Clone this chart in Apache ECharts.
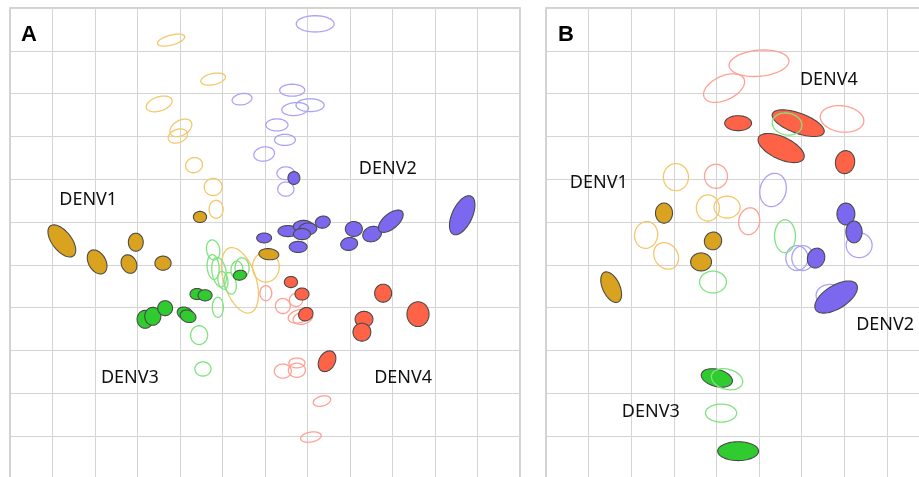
<!DOCTYPE html>
<html><head><meta charset="utf-8">
<script src="https://cdn.jsdelivr.net/npm/echarts@6/dist/echarts.min.js"></script>
<style>html,body{margin:0;padding:0;background:#fff}#c{width:919px;height:477px}</style>
</head><body><div id="c"></div><script>
// Each ellipse: [x, y, width, height, angleDeg] in map grid units (y counted downward)
// ---- Panel A ----
const A_gold_open = [
  [3.79,0.75,0.66,0.23,15],[4.78,1.66,0.59,0.26,12],[3.51,2.24,0.63,0.33,18],
  [4.02,2.80,0.56,0.35,30],[3.95,2.99,0.47,0.31,20],[4.33,3.67,0.40,0.35,20],
  [4.78,4.18,0.42,0.40,0],[4.85,4.70,0.33,0.42,0],[5.41,6.36,1.60,0.75,-72],
  [6.02,6.05,0.63,0.70,0]
];
const A_gold_fill = [
  [1.22,5.44,0.89,0.45,-52],[2.05,5.93,0.61,0.40,-60],[2.96,5.47,0.35,0.42,0],
  [2.80,5.98,0.45,0.35,-65],[3.60,5.96,0.38,0.33,0],[4.47,4.88,0.31,0.26,0],
  [6.09,5.75,0.47,0.26,-5]
];
const A_purple_open = [
  [7.18,0.37,0.89,0.38,0],[5.46,2.13,0.47,0.26,10],[6.64,1.92,0.59,0.28,0],
  [7.06,2.27,0.66,0.30,0],[6.71,2.36,0.63,0.30,5],[6.28,2.73,0.52,0.28,0],
  [6.47,3.08,0.49,0.26,0],[5.98,3.41,0.49,0.33,10],[6.49,3.86,0.42,0.30,0],
  [6.49,4.23,0.38,0.33,0]
];
const A_purple_fill = [
  [6.68,3.97,0.28,0.30,0],[5.98,5.37,0.35,0.23,0],[6.54,5.21,0.47,0.26,0],
  [6.89,5.09,0.45,0.26,5],[7.01,5.16,0.42,0.28,5],[6.87,5.28,0.40,0.26,0],
  [7.36,5.00,0.35,0.28,10],[6.78,5.58,0.42,0.26,0],[8.09,5.16,0.40,0.35,0],
  [7.98,5.51,0.40,0.30,10],[8.52,5.28,0.45,0.35,20],[8.96,4.98,0.70,0.35,40],
  [10.64,4.84,0.99,0.47,65]
];
const A_green_open = [
  [4.78,5.65,0.31,0.47,10],[4.78,6.05,0.28,0.58,5],[4.92,6.17,0.33,0.70,10],
  [5.01,6.36,0.23,0.42,10],[5.18,6.43,0.28,0.51,10],[5.46,6.07,0.33,0.47,0],
  [5.34,6.12,0.28,0.42,0],[4.89,6.99,0.26,0.47,0],[4.45,7.64,0.40,0.44,0],
  [4.54,8.43,0.38,0.33,0]
];
const A_green_fill = [
  [3.18,7.27,0.38,0.42,0],[3.36,7.20,0.38,0.42,0],[3.65,7.01,0.35,0.35,0],
  [4.12,7.13,0.38,0.28,-20],[4.19,7.20,0.38,0.28,-20],[4.40,6.68,0.33,0.26,0],
  [4.59,6.71,0.33,0.26,0],[5.41,6.24,0.31,0.23,10]
];
const A_red_open = [
  [6.02,6.66,0.28,0.35,0],[6.42,6.96,0.35,0.35,0],[6.73,6.82,0.31,0.30,0],
  [6.80,7.20,0.52,0.30,15],[6.89,7.24,0.47,0.28,15],[6.42,8.48,0.40,0.33,0],
  [6.75,8.29,0.38,0.23,0],[6.75,8.46,0.40,0.33,0],[7.34,9.18,0.42,0.23,15],
  [7.08,10.02,0.49,0.23,10]
];
const A_red_fill = [
  [6.61,6.40,0.31,0.26,0],[6.87,6.68,0.33,0.28,0],[6.96,7.15,0.35,0.30,30],
  [8.78,6.66,0.40,0.42,0],[8.33,7.27,0.42,0.37,0],[8.28,7.57,0.42,0.42,0],
  [9.60,7.15,0.52,0.58,0],[7.46,8.25,0.52,0.37,60]
];
// ---- Panel B ----
const B_red_open = [
  [5.00,1.29,1.41,0.61,5],[4.18,1.87,1.03,0.56,25],[6.95,2.59,1.03,0.61,-8],
  [3.99,3.93,0.54,0.56,0],[4.77,4.98,0.49,0.63,-10]
];
const B_red_fill = [
  [4.51,2.69,0.63,0.35,0],[5.92,2.69,1.29,0.47,-20],[5.52,3.27,1.17,0.52,-25],
  [7.02,3.60,0.45,0.54,-10]
];
const B_gold_open = [
  [3.05,3.95,0.59,0.63,0],[3.80,4.67,0.54,0.61,0],[4.25,4.65,0.61,0.51,0],
  [2.35,5.30,0.54,0.63,-10],[2.82,5.79,0.66,0.54,-55]
];
const B_gold_fill = [
  [2.77,4.79,0.40,0.47,0],[3.92,5.44,0.40,0.42,-30],[3.64,5.93,0.49,0.42,0],
  [1.53,6.52,0.77,0.40,-65]
];
const B_purple_open = [
  [5.33,4.25,0.61,0.79,-15],[5.89,5.84,0.52,0.58,0],[6.03,5.84,0.52,0.58,0],
  [7.35,5.54,0.61,0.58,0],[6.67,6.71,0.66,0.51,0]
];
const B_purple_fill = [
  [6.34,5.84,0.40,0.47,-20],[7.04,4.81,0.42,0.51,0],[7.23,5.23,0.38,0.51,0],
  [6.81,6.75,1.13,0.54,32]
];
const B_green_open = [
  [5.66,2.71,0.70,0.51,-10],[5.61,5.33,0.49,0.77,0],[3.92,6.40,0.63,0.51,0],
  [4.25,8.67,0.75,0.47,-15],[4.11,9.46,0.73,0.42,0]
];
const B_green_fill = [
  [4.01,8.64,0.75,0.40,-15],[4.51,10.35,0.96,0.44,0]
];
// labels: [text, x, y]
const A_labels = [["DENV1",1.84,4.49],["DENV2",8.89,3.76],["DENV3",2.82,8.64],["DENV4",9.25,8.64]];
const B_labels = [["DENV1",1.24,4.09],["DENV4",6.64,1.68],["DENV2",7.96,7.41],["DENV3",2.46,9.44]];
const panelLetters = ["A","B"];

const COL = {
  gold:  {fill:'#D9A21F', open:'#F4C76A'},
  purple:{fill:'#7B68EE', open:'#ABA2F6'},
  green: {fill:'#2FCB2F', open:'#7FE47F'},
  red:   {fill:'#FF6347', open:'#FFA092'}
};

function ellipseSeries(data, idx, color, filled, z) {
  return {
    type:'custom', xAxisIndex:idx, yAxisIndex:idx, data:data, z:z, clip:true, silent:true,
    renderItem:function(params, api){
      const c = api.coord([api.value(0), api.value(1)]);
      const s = api.size([1,1]);
      const rx = api.value(2)/2*Math.abs(s[0]), ry = api.value(3)/2*Math.abs(s[1]);
      const a = api.value(4)*Math.PI/180, ca=Math.cos(a), sa=Math.sin(a);
      const pts=[];
      for(let i=0;i<72;i++){
        const t=i/72*2*Math.PI, u=rx*Math.cos(t), v=ry*Math.sin(t);
        pts.push([c[0]+u*ca+v*sa, c[1]-u*sa+v*ca]);
      }
      return {type:'polygon', shape:{points:pts},
        style: filled ? {fill:color, stroke:'#4a4a4a', lineWidth:1.1}
                      : {fill:'none', stroke:color, lineWidth:1.3}};
    }
  };
}
function labelSeries(labels, idx) {
  return {
    type:'custom', xAxisIndex:idx, yAxisIndex:idx, z:20, silent:true,
    data: labels.map(l=>[l[1], l[2]]),
    renderItem:function(params, api){
      const c = api.coord([api.value(0), api.value(1)]);
      return {type:'text', x:c[0], y:c[1], style:{text:labels[params.dataIndex][0],
        font:'18px "Noto Sans"', fill:'#111', align:'center', verticalAlign:'middle'}};
    }
  };
}
function axisPair(idx, max) {
  return {
    x:{type:'value', gridIndex:idx, min:0, max:max, interval:1,
       axisLine:{show:false}, axisTick:{show:false}, axisLabel:{show:false},
       splitLine:{show:true, lineStyle:{color:'#d4d4d4', width:1}}},
    y:{type:'value', gridIndex:idx, min:0, max:11, interval:1, inverse:true,
       axisLine:{show:false}, axisTick:{show:false}, axisLabel:{show:false},
       splitLine:{show:true, lineStyle:{color:'#d4d4d4', width:1}}}
  };
}
const aA = axisPair(0, 12), aB = axisPair(1, 10);
const chart = echarts.init(document.getElementById('c'), null, {renderer:'canvas'});
chart.setOption({
  animation:false,
  backgroundColor:'#fff',
  grid:[
    {left:10, top:8, width:510, height:471, show:true, borderColor:'#c4c4c4', borderWidth:1.5, outerBoundsMode:'none', containLabel:false},
    {left:546, top:8, width:426, height:471, show:true, borderColor:'#c4c4c4', borderWidth:1.5, outerBoundsMode:'none', containLabel:false}
  ],
  xAxis:[aA.x, aB.x],
  yAxis:[aA.y, aB.y],
  graphic:[
    {type:'text', x:29, y:35, style:{text:panelLetters[0], font:'bold 22px "Liberation Sans"', fill:'#000', align:'center', verticalAlign:'middle'}},
    {type:'text', x:566, y:35, style:{text:panelLetters[1], font:'bold 22px "Liberation Sans"', fill:'#000', align:'center', verticalAlign:'middle'}}
  ],
  series:[
    ellipseSeries(A_gold_open, 0, COL.gold.open, false, 2),
    ellipseSeries(A_purple_open, 0, COL.purple.open, false, 2),
    ellipseSeries(A_red_open, 0, COL.red.open, false, 2),
    ellipseSeries(A_green_open, 0, COL.green.open, false, 3),
    ellipseSeries(A_gold_fill, 0, COL.gold.fill, true, 4),
    ellipseSeries(A_purple_fill, 0, COL.purple.fill, true, 4),
    ellipseSeries(A_green_fill, 0, COL.green.fill, true, 4),
    ellipseSeries(A_red_fill, 0, COL.red.fill, true, 4),
    labelSeries(A_labels, 0),
    ellipseSeries(B_red_open, 1, COL.red.open, false, 2),
    ellipseSeries(B_gold_open, 1, COL.gold.open, false, 2),
    ellipseSeries(B_purple_open, 1, COL.purple.open, false, 2),
    ellipseSeries(B_red_fill, 1, COL.red.fill, true, 4),
    ellipseSeries(B_gold_fill, 1, COL.gold.fill, true, 4),
    ellipseSeries(B_purple_fill, 1, COL.purple.fill, true, 4),
    ellipseSeries(B_green_fill, 1, COL.green.fill, true, 4),
    ellipseSeries(B_green_open, 1, COL.green.open, false, 5),
    labelSeries(B_labels, 1)
  ]
});
</script></body></html>
